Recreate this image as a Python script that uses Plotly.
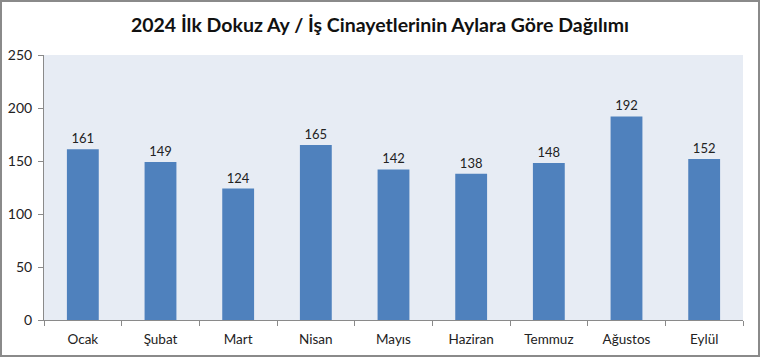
import plotly.graph_objects as go

months = ["Ocak", "Şubat", "Mart", "Nisan", "Mayıs", "Haziran", "Temmuz", "Ağustos", "Eylül"]
values = [161, 149, 124, 165, 142, 138, 148, 192, 152]
y_ticks = [0, 50, 100, 150, 200, 250]

fig = go.Figure(go.Bar(
    x=months, y=values, text=[str(v) for v in values], textposition="outside",
    marker=dict(color="#4F81BD", line=dict(width=0)), width=0.41,
    textfont=dict(family="Lato, Open Sans, sans-serif", size=13, color="#222"),
    cliponaxis=False,
))

fig.update_layout(
    width=760, height=357,
    margin=dict(l=44, r=17, t=55, b=37),
    paper_bgcolor="white", plot_bgcolor="#E7ECF4",
    title=dict(text="<b>2024 İlk Dokuz Ay / İş Cinayetlerinin Aylara Göre Dağılımı</b>",
               x=0.5, xanchor="center", y=0.93, yanchor="middle",
               font=dict(family="Lato, Open Sans, sans-serif", size=19.5, color="#111")),
    showlegend=False,
    font=dict(family="Lato, Open Sans, sans-serif", size=13, color="#222"),
    shapes=[dict(type="rect", xref="paper", yref="paper", x0=-43/699, x1=1+16/699,
                 y0=-36/265, y1=1+54/265, line=dict(color="#8A8A8A", width=2), layer="above")],
)
fig.update_xaxes(showline=True, linecolor="#8A8A8A", linewidth=1, ticks="outside",
                 tickson="boundaries", ticklen=5, tickcolor="#8A8A8A", showgrid=False,
                 tickfont=dict(size=13.5), ticklabelstandoff=7, automargin=False)
fig.update_yaxes(range=[0, 250], tickvals=y_ticks, showline=True, linecolor="#8A8A8A",
                 linewidth=1, ticks="outside", ticklen=5, tickcolor="#8A8A8A",
                 showgrid=False, zeroline=False, tickfont=dict(size=14), ticklabelstandoff=3,
                 automargin=False)

fig.write_html("out.html", config={"displayModeBar": False},
               post_script="document.body.style.margin='0';document.body.style.overflow='hidden';")
